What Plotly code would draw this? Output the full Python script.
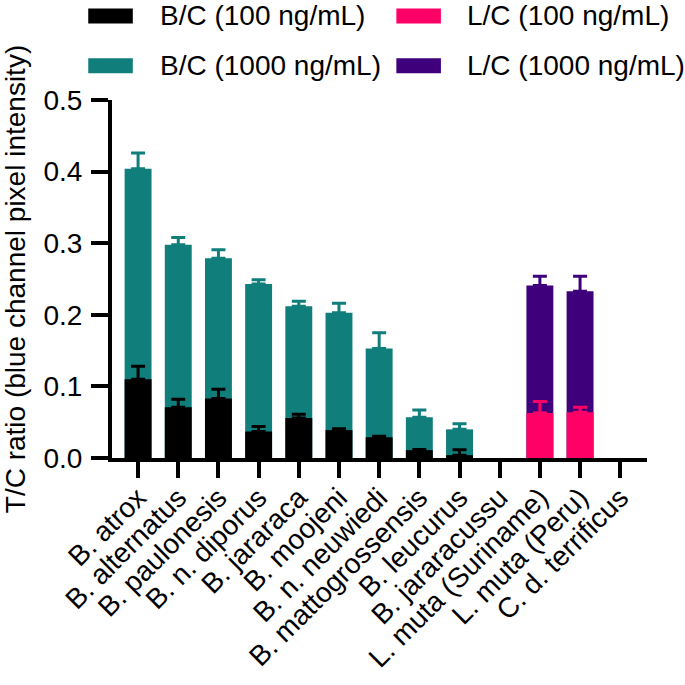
import plotly.graph_objects as go

categories = ["B. atrox", "B. alternatus", "B. paulonesis", "B. n. diporus", "B. jararaca",
              "B. moojeni", "B. n. neuwiedi", "B. mattogrossensis", "B. leucurus",
              "B. jararacussu", "L. muta (Suriname)", "L. muta (Peru)", "C. d. terrificus"]

# None = no bar drawn (not detected / not tested)
bc_1000 = [0.404, 0.298, 0.279, 0.243, 0.212, 0.203, 0.153, 0.057, 0.040, None, None, None, None]
bc_1000_err = [0.022, 0.010, 0.012, 0.006, 0.007, 0.013, 0.022, 0.010, 0.008, None, None, None, None]
bc_100 = [0.110, 0.071, 0.083, 0.037, 0.056, 0.039, 0.029, 0.011, 0.004, None, None, None, None]
bc_100_err = [0.018, 0.011, 0.013, 0.007, 0.005, 0.002, 0.0015, 0.001, 0.0075, None, None, None, None]
lc_1000 = [None] * 10 + [0.241, 0.233, None]
lc_1000_err = [None] * 10 + [0.013, 0.021, None]
lc_100 = [None] * 10 + [0.063, 0.064, None]
lc_100_err = [None] * 10 + [0.016, 0.007, None]

colors = {"B/C (100 ng/mL)": "#000000", "B/C (1000 ng/mL)": "#107E7B",
          "L/C (100 ng/mL)": "#FF0066", "L/C (1000 ng/mL)": "#3E007B"}

FONT = "Liberation Sans, Arial, sans-serif"
FS = 28

fig = go.Figure()

def add_bar(name, vals, errs):
    c = colors[name]
    fig.add_trace(go.Bar(
        x=categories, y=vals, name=name, width=0.67,
        marker=dict(color=c, line=dict(width=0)),
        error_y=dict(type="data", symmetric=False, array=errs,
                     arrayminus=[0 if e is not None else None for e in errs],
                     color=c, thickness=3, width=7),
        showlegend=False,
    ))

# back layer: 1000 ng/mL, front: 100 ng/mL
add_bar("B/C (1000 ng/mL)", bc_1000, bc_1000_err)
add_bar("L/C (1000 ng/mL)", lc_1000, lc_1000_err)
add_bar("B/C (100 ng/mL)", bc_100, bc_100_err)
add_bar("L/C (100 ng/mL)", lc_100, lc_100_err)

# legend (swatches + labels) in paper coordinates
legend_layout = [
    ("B/C (100 ng/mL)", -0.0444, 0.0389, 1.2139, 1.2556, 0.0852, 1.2347),
    ("B/C (1000 ng/mL)", -0.0444, 0.0389, 1.0750, 1.1167, 0.0852, 1.0958),
    ("L/C (100 ng/mL)", 0.5315, 0.6148, 1.2139, 1.2556, 0.6593, 1.2347),
    ("L/C (1000 ng/mL)", 0.5315, 0.6148, 1.0750, 1.1167, 0.6593, 1.0958),
]
for name, x0, x1, y0, y1, tx, ty in legend_layout:
    fig.add_shape(type="rect", xref="paper", yref="paper", x0=x0, x1=x1, y0=y0, y1=y1,
                  fillcolor=colors[name], line=dict(width=0))
    fig.add_annotation(xref="paper", yref="paper", x=tx, y=ty, text=name, showarrow=False,
                       xanchor="left", yanchor="middle",
                       font=dict(family=FONT, size=FS, color="#000000"))

fig.update_layout(
    width=685, height=685,
    margin=dict(l=107, r=38, t=100, b=225),
    barmode="overlay",
    plot_bgcolor="white", paper_bgcolor="white",
    font=dict(family=FONT, size=FS, color="#000000"),
)
fig.update_xaxes(
    range=[-0.649, 12.666], showline=True, linecolor="black", linewidth=4,
    ticks="outside", ticklen=16, tickwidth=4, tickcolor="black",
    tickangle=-45, tickfont=dict(family=FONT, size=FS, color="black"),
    ticklabelstandoff=-8,
    showgrid=False, zeroline=False,
)
fig.update_yaxes(
    range=[0, 0.5], dtick=0.1, tickformat=".1f", showline=True, linecolor="black", linewidth=4,
    ticks="outside", ticklen=17, tickwidth=4, tickcolor="black",
    tickfont=dict(family=FONT, size=FS, color="black"),
    ticklabelstandoff=3,
    title=dict(text="T/C ratio (blue channel pixel intensity)",
               font=dict(family=FONT, size=FS, color="black"), standoff=12),
    showgrid=False, zeroline=False,
)

fig.write_html("out.html", config={"displayModeBar": False},
               post_script="document.body.style.margin='0';")
